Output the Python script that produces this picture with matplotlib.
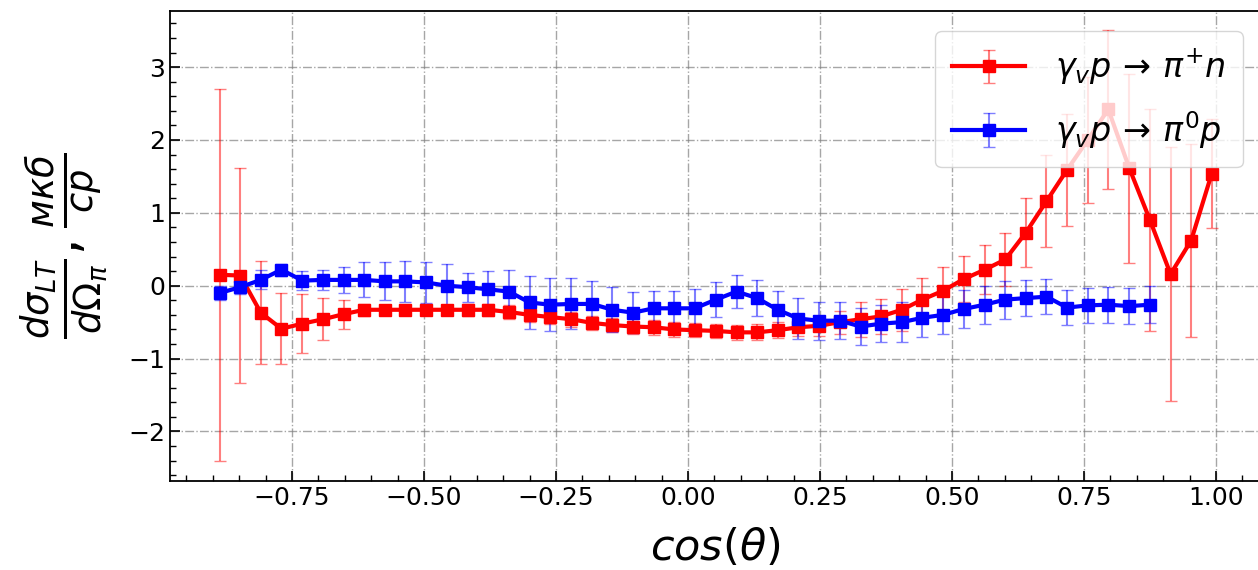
import numpy as np
import matplotlib
matplotlib.use('Agg')
import matplotlib.pyplot as plt
from matplotlib.ticker import MultipleLocator

# ---------------------------------------------------------------------------
# Data
# ---------------------------------------------------------------------------
cos_pip = [-0.887, -0.848, -0.809, -0.770, -0.730, -0.691, -0.652, -0.613,
           -0.574, -0.535, -0.496, -0.456, -0.417, -0.378, -0.339, -0.300,
           -0.261, -0.221, -0.182, -0.143, -0.104, -0.065, -0.026, 0.013,
           0.053, 0.092, 0.131, 0.170, 0.209, 0.248, 0.288, 0.327,
           0.366, 0.405, 0.444, 0.483, 0.522, 0.562, 0.601, 0.640,
           0.679, 0.718, 0.757, 0.796, 0.836, 0.875, 0.914, 0.953, 0.992]
sig_pip = [0.15, 0.14, -0.37, -0.59, -0.52, -0.46, -0.39, -0.33,
           -0.33, -0.33, -0.33, -0.33, -0.33, -0.33, -0.36, -0.40,
           -0.43, -0.46, -0.51, -0.54, -0.56, -0.57, -0.60, -0.61,
           -0.62, -0.64, -0.64, -0.61, -0.57, -0.55, -0.50, -0.46,
           -0.42, -0.33, -0.19, -0.07, 0.09, 0.22, 0.36, 0.73,
           1.16, 1.59, 2.00, 2.42, 1.61, 0.90, 0.16, 0.62, 1.54]
err_pip = [2.55, 1.48, 0.71, 0.49, 0.40, 0.29, 0.20, 0.08,
           0.07, 0.07, 0.07, 0.07, 0.08, 0.08, 0.09, 0.10,
           0.10, 0.10, 0.10, 0.10, 0.10, 0.10, 0.10, 0.10,
           0.10, 0.10, 0.11, 0.11, 0.12, 0.14, 0.16, 0.24,
           0.24, 0.29, 0.30, 0.33, 0.32, 0.34, 0.37, 0.47,
           0.63, 0.77, 0.87, 1.09, 1.30, 1.52, 1.74, 1.32, 0.75]

cos_pi0 = cos_pip[:46]
sig_pi0 = [-0.10, -0.02, 0.08, 0.22, 0.07, 0.08, 0.08, 0.08,
           0.06, 0.06, 0.045, 0.00, -0.02, -0.05, -0.08, -0.23,
           -0.26, -0.25, -0.25, -0.33, -0.37, -0.31, -0.31, -0.31,
           -0.19, -0.08, -0.17, -0.33, -0.45, -0.48, -0.48, -0.56,
           -0.52, -0.50, -0.44, -0.40, -0.32, -0.26, -0.19, -0.17,
           -0.15, -0.30, -0.27, -0.26, -0.28, -0.26]
err_pi0 = [0.10, 0.10, 0.13, 0.08, 0.13, 0.14, 0.18, 0.24,
           0.26, 0.28, 0.28, 0.30, 0.20, 0.25, 0.30, 0.37,
           0.36, 0.35, 0.31, 0.31, 0.28, 0.24, 0.24, 0.26,
           0.24, 0.23, 0.25, 0.26, 0.28, 0.26, 0.25, 0.25,
           0.25, 0.27, 0.26, 0.26, 0.26, 0.26, 0.26, 0.25,
           0.24, 0.24, 0.245, 0.245, 0.245, 0.25]

lbl_pip = r'$\gamma_v p\,\rightarrow\,\pi^{+} n$'
lbl_pi0 = r'$\gamma_v p\,\rightarrow\,\pi^{0} p$'

# ---------------------------------------------------------------------------
# Plot
# ---------------------------------------------------------------------------
fig = plt.figure(figsize=(12.58, 5.70), dpi=100)
ax = fig.add_axes([0.1351, 0.1561, 0.8676, 0.8246])

ax.errorbar(cos_pip, sig_pip, yerr=err_pip, fmt='s-', color='red',
            ecolor=(1, 0, 0, 0.5), elinewidth=1.5, capsize=4, lw=3,
            markersize=8, label=lbl_pip)
ax.errorbar(cos_pi0, sig_pi0, yerr=err_pi0, fmt='s-', color='blue',
            ecolor=(0, 0, 1, 0.5), elinewidth=1.5, capsize=4, lw=3,
            markersize=8, label=lbl_pi0)

ax.set_xlim(-0.981, 1.086)
ax.set_ylim(-2.68, 3.77)

ax.xaxis.set_major_locator(MultipleLocator(0.25))
ax.xaxis.set_minor_locator(MultipleLocator(0.05))
ax.yaxis.set_major_locator(MultipleLocator(1))
ax.yaxis.set_minor_locator(MultipleLocator(0.2))
ax.tick_params(which='both', direction='in', labelsize=18)
ax.tick_params(which='major', length=7, width=1.2)
ax.tick_params(which='minor', length=4, width=1)
ax.grid(True, which='major', linestyle='-.', color='gray', alpha=0.7, lw=1)

for s in ax.spines.values():
    s.set_linewidth(1.3)

ax.set_xlabel(r'$cos(\theta)$', fontsize=31, labelpad=12)
ax.set_ylabel(r'$\frac{d\sigma_{LT}}{d\Omega_{\pi}}, \frac{мкб}{ср}$', fontsize=38)
ax.yaxis.set_label_coords(-0.055, 0.5)

ax.legend(loc='upper right', fontsize=24, handlelength=2.2, labelspacing=0.65,
          borderpad=0.5, handletextpad=0.9, framealpha=0.8,
          bbox_to_anchor=(0.998, 0.993))

fig.savefig('out.png', dpi=100)
